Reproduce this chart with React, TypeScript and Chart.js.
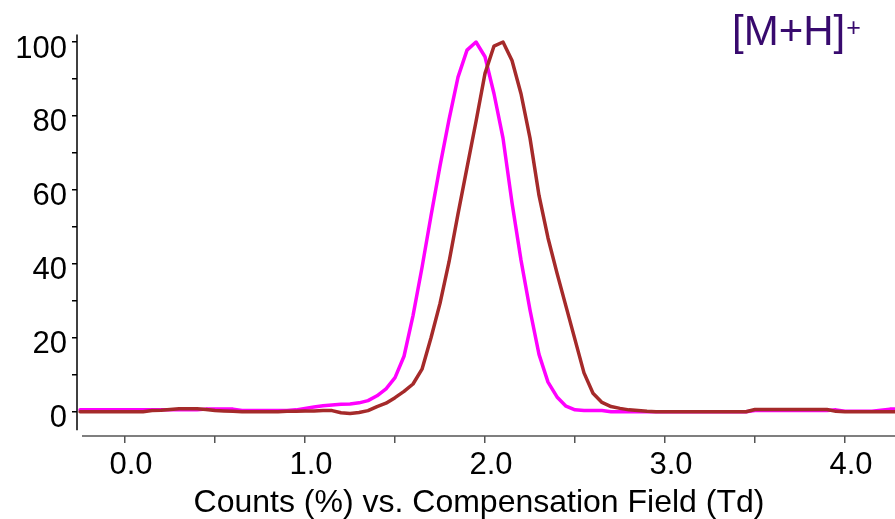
import { useEffect, useRef } from "react";
import { Chart, registerables } from "chart.js";

Chart.register(...registerables);

// Compensation field (Td), sampled every 0.05 Td
const fieldTd = [
  -0.25, -0.2, -0.15, -0.1, -0.05, 0.0, 0.05, 0.1, 0.15, 0.2,
  0.25, 0.3, 0.35, 0.4, 0.45, 0.5, 0.55, 0.6, 0.65, 0.7,
  0.75, 0.8, 0.85, 0.9, 0.95, 1.0, 1.05, 1.1, 1.15, 1.2,
  1.25, 1.3, 1.35, 1.4, 1.45, 1.5, 1.55, 1.6, 1.65, 1.7,
  1.75, 1.8, 1.85, 1.9, 1.95, 2.0, 2.05, 2.1, 2.15, 2.2,
  2.25, 2.3, 2.35, 2.4, 2.45, 2.5, 2.55, 2.6, 2.65, 2.7,
  2.75, 2.8, 2.85, 2.9, 2.95, 3.0, 3.05, 3.1, 3.15, 3.2,
  3.25, 3.3, 3.35, 3.4, 3.45, 3.5, 3.55, 3.6, 3.65, 3.7,
  3.75, 3.8, 3.85, 3.9, 3.95, 4.0, 4.05, 4.1, 4.15, 4.2,
  4.25, 4.3,
];

// Relative counts (%) of the first ionogram (magenta)
const countsMagenta = [
  0.5, 0.5, 0.5, 0.5, 0.5, 0.5, 0.5, 0.5, 0.5, 0.5,
  0.5, 0.5, 0.5, 0.5, 0.7, 0.7, 0.7, 0.7, 0.3, 0.3,
  0.3, 0.3, 0.3, 0.3, 0.5, 0.9, 1.3, 1.6, 1.8, 2.0,
  2.1, 2.4, 3.0, 4.3, 6.2, 9.2, 15, 26, 39, 53,
  66.5, 79, 90.5, 97.8, 100, 96, 86, 74, 56.5, 41,
  27.5, 15.5, 8, 4, 1.5, 0.5, 0.3, 0.3, 0.3, 0,
  0, 0, 0, 0, 0, 0, 0, 0, 0, 0,
  0, 0, 0, 0, 0, 0.3, 0.3, 0.3, 0.3, 0.3,
  0.3, 0.3, 0.3, 0.3, 0.5, 0.1, 0.1, 0.1, 0.1, 0.4,
  0.7, 0.8,
];

// Relative counts (%) of the second ionogram (brown)
const countsBrown = [
  0, 0, 0, 0, 0, 0, 0, 0, 0.3, 0.4,
  0.6, 0.8, 0.8, 0.8, 0.6, 0.3, 0.2, 0.1, 0, 0,
  0, 0, 0, 0.1, 0.1, 0.2, 0.2, 0.3, 0.3, -0.3,
  -0.5, -0.2, 0.3, 1.4, 2.3, 3.8, 5.5, 7.5, 11.5, 20,
  29.3, 40.5, 53.5, 66, 78.5, 91.5, 98.9, 100, 95, 86,
  74, 58.5, 47, 37.5, 28.5, 19.5, 10.5, 5, 2.5, 1.4,
  0.9, 0.5, 0.3, 0.1, 0, 0, 0, 0, 0, 0,
  0, 0, 0, 0, 0, 0.6, 0.6, 0.6, 0.6, 0.6,
  0.6, 0.6, 0.6, 0.6, 0.1, 0, 0, 0, 0, 0,
  0, 0,
];

const xTickValues = [0, 0.5, 1, 1.5, 2, 2.5, 3, 3.5, 4];
const yTickValues = [0, 10, 20, 30, 40, 50, 60, 70, 80, 90, 100];

const ionLabel = "[M+H]";
const ionCharge = "+";
const xAxisTitle = "Counts (%) vs. Compensation Field (Td)";

const FONT = '"Liberation Sans", Arial, Helvetica, sans-serif';

const toPoints = (ys: number[]) => fieldTd.map((x, i) => ({ x, y: ys[i] }));

// Axis lines (the x axis sits slightly apart from the y axis), the axis title and the ion label
const framePlugin = {
  id: "frame",
  afterDraw(chart: any) {
    const { ctx, chartArea, scales } = chart;
    const y = scales.y;
    ctx.save();
    ctx.lineWidth = 1.5;
    ctx.strokeStyle = "#000";
    ctx.beginPath();
    ctx.moveTo(chartArea.left, y.getPixelForValue(102));
    ctx.lineTo(chartArea.left, y.getPixelForValue(-5));
    ctx.stroke();

    ctx.strokeStyle = "#555";
    ctx.beginPath();
    ctx.moveTo(chartArea.left + 5, chartArea.bottom);
    ctx.lineTo(chartArea.right, chartArea.bottom);
    ctx.stroke();

    // x axis title
    ctx.fillStyle = "#000";
    ctx.textAlign = "center";
    ctx.textBaseline = "middle";
    ctx.font = `32px ${FONT}`;
    ctx.fillText(xAxisTitle, chartArea.left + 402, chartArea.bottom + 67);

    // ion label with superscript charge
    ctx.fillStyle = "#380a6e";
    ctx.textBaseline = "alphabetic";
    ctx.textAlign = "left";
    ctx.font = `42px ${FONT}`;
    const lx = chartArea.right - 163;
    ctx.fillText(ionLabel, lx, 45);
    const w = ctx.measureText(ionLabel).width;
    ctx.font = `25px ${FONT}`;
    ctx.fillText(ionCharge, lx + w + 1, 36);
    ctx.restore();
  },
};

export default function App() {
  const canvasRef = useRef<HTMLCanvasElement | null>(null);

  useEffect(() => {
    const canvas = canvasRef.current;
    if (!canvas) return;
    const chart = new Chart(canvas, {
      type: "line",
      data: {
        datasets: [
          {
            label: "brown",
            data: toPoints(countsBrown),
            borderColor: "#a52a2a",
            borderWidth: 3.5,
            pointRadius: 0,
            tension: 0,
            fill: false,
            order: 0,
          },
          {
            label: "magenta",
            data: toPoints(countsMagenta),
            borderColor: "#ff00ff",
            borderWidth: 3.5,
            pointRadius: 0,
            tension: 0,
            fill: false,
            order: 1,
          },
        ],
      },
      options: {
        responsive: false,
        animation: false,
        layout: { padding: { top: 34.6, right: 0, left: 0, bottom: 0 } },
        plugins: {
          legend: { display: false },
          tooltip: { enabled: false },
        },
        elements: { line: { borderJoinStyle: "round", borderCapStyle: "round" } },
        scales: {
          x: {
            type: "linear",
            min: -0.267,
            max: 4.278,
            afterBuildTicks: (s: any) => {
              s.ticks = xTickValues.map((v) => ({ value: v }));
            },
            afterFit: (s: any) => {
              s.height = 83;
            },
            ticks: {
              autoSkip: false,
              maxRotation: 0,
              padding: 4,
              labelOffset: 6,
              color: "#000",
              font: { family: FONT, size: 31 },
              callback: (v: any) => (Number.isInteger(Number(v)) ? Number(v).toFixed(1) : ""),
            },
            grid: {
              display: true,
              drawOnChartArea: false,
              drawTicks: true,
              tickLength: 7,
              color: "#555",
              lineWidth: 1.5,
            },
            border: { display: false },
          },
          y: {
            type: "linear",
            min: -6.57,
            max: 102,
            afterBuildTicks: (s: any) => {
              s.ticks = yTickValues.map((v) => ({ value: v }));
            },
            afterFit: (s: any) => {
              s.width = 77;
            },
            ticks: {
              autoSkip: false,
              padding: 5,
              labelOffset: 7,
              color: "#000",
              font: { family: FONT, size: 31 },
              callback: (v: any) => (Number(v) % 20 === 0 ? String(v) : ""),
            },
            grid: {
              display: true,
              drawOnChartArea: false,
              drawTicks: true,
              tickLength: 5,
              color: "#000",
              lineWidth: 1.5,
            },
            border: { display: false },
          },
        },
      },
      plugins: [framePlugin],
    });
    return () => chart.destroy();
  }, []);

  return (
    <div style={{ position: "absolute", left: 0, top: 0, width: 895, height: 519, background: "#fff" }}>
      <canvas ref={canvasRef} width={895} height={519} />
    </div>
  );
}
